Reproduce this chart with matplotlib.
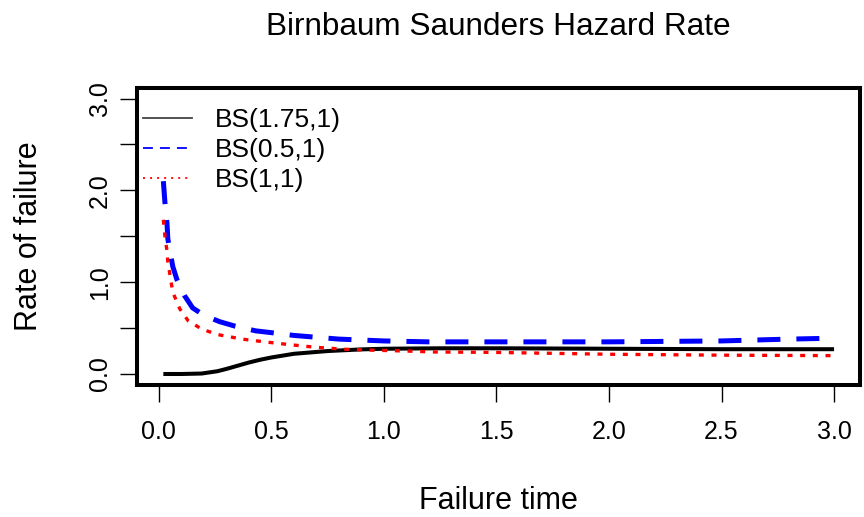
import matplotlib
matplotlib.use("Agg")
import matplotlib.pyplot as plt
from matplotlib.lines import Line2D

plt.rcParams['font.family'] = ['Liberation Sans', 'DejaVu Sans']

# values
bs175_x = [0.02, 0.1, 0.19, 0.26, 0.3, 0.35, 0.4, 0.45, 0.5, 0.6, 0.75, 0.9, 1.0, 1.25, 1.5, 2.0, 2.5, 3.0]
bs175_y = [0.0, 0.0, 0.005, 0.03, 0.055, 0.09, 0.125, 0.155, 0.18, 0.22, 0.25, 0.268, 0.275, 0.28, 0.28, 0.275, 0.27, 0.27]

bs05_x = [0.02, 0.027, 0.036, 0.04, 0.05, 0.062, 0.08, 0.115, 0.15, 0.2, 0.27, 0.34, 0.43, 0.5,
          0.6, 0.7, 0.8, 0.9, 1.0, 1.2, 1.5, 2.0, 2.5, 2.8, 3.0]
bs05_y = [2.10, 1.87, 1.65, 1.47, 1.33, 1.17, 1.03, 0.85, 0.72, 0.64, 0.57, 0.52, 0.47, 0.45,
          0.42, 0.40, 0.38, 0.37, 0.36, 0.35, 0.35, 0.35, 0.36, 0.38, 0.39]

bs1_x = [0.02, 0.027, 0.035, 0.04, 0.05, 0.062, 0.093, 0.13, 0.19, 0.26, 0.37, 0.47, 0.58, 0.7,
         0.82, 0.94, 1.1, 1.22, 1.5, 2.0, 2.5, 3.0]
bs1_y = [1.68, 1.50, 1.36, 1.22, 1.07, 0.89, 0.71, 0.58, 0.49, 0.43, 0.38, 0.35, 0.32, 0.29,
         0.27, 0.26, 0.25, 0.24, 0.235, 0.215, 0.205, 0.20]

labels = ["BS(1.75,1)", "BS(0.5,1)", "BS(1,1)"]
x_ticks = [0.0, 0.5, 1.0, 1.5, 2.0, 2.5, 3.0]
y_ticks = [0.0, 0.5, 1.0, 1.5, 2.0, 2.5, 3.0]
y_ticklabels = ["0.0", "", "1.0", "", "2.0", "", "3.0"]

fig = plt.figure(figsize=(8.64, 5.17), dpi=100)
ax = fig.add_axes([0.1591, 0.2553, 0.8362, 0.5754])

ax.plot(bs175_x, bs175_y, color='black', lw=2.9, solid_capstyle='butt')
ax.plot(bs05_x, bs05_y, color='blue', lw=3.6, dashes=(4.6, 3.2))
ax.plot(bs1_x, bs1_y, color='red', lw=2.4, dashes=(1.5, 2.3))

ax.set_xlim(-0.095, 3.115)
ax.set_ylim(-0.12, 3.12)
ax.set_xticks(x_ticks)
ax.set_xticklabels([f"{t:.1f}" for t in x_ticks])
ax.set_yticks(y_ticks)
ax.set_yticklabels(y_ticklabels, rotation=90, va='center')
ax.tick_params(direction='out', length=12, width=1.0, labelsize=18)
ax.tick_params(axis='x', pad=13)
ax.tick_params(axis='y', pad=6.5)

for s in ax.spines.values():
    s.set_linewidth(2.9)

ax.set_xlabel("Failure time", fontsize=22, va='baseline')
ax.xaxis.set_label_coords(0.5, -0.417)
ax.set_ylabel("Rate of failure", fontsize=22, va='center')
ax.yaxis.set_label_coords(-0.1495, 0.5)
ax.set_title("Birnbaum Saunders Hazard Rate", fontsize=22.7, y=1.1765, pad=0)

handles = [
    Line2D([], [], color='#444444', lw=1.3),
    Line2D([], [], color='blue', lw=1.3, dashes=(5.5, 3.9)),
    Line2D([], [], color='red', lw=1.3, dashes=(1.1, 2.8)),
]
ax.legend(handles, labels, loc='upper left', bbox_to_anchor=(0.0076, 0.931), frameon=False,
          fontsize=19, handlelength=1.86, handletextpad=0.87, labelspacing=0.23,
          borderpad=0, borderaxespad=0)

fig.savefig("out.png", dpi=100)
